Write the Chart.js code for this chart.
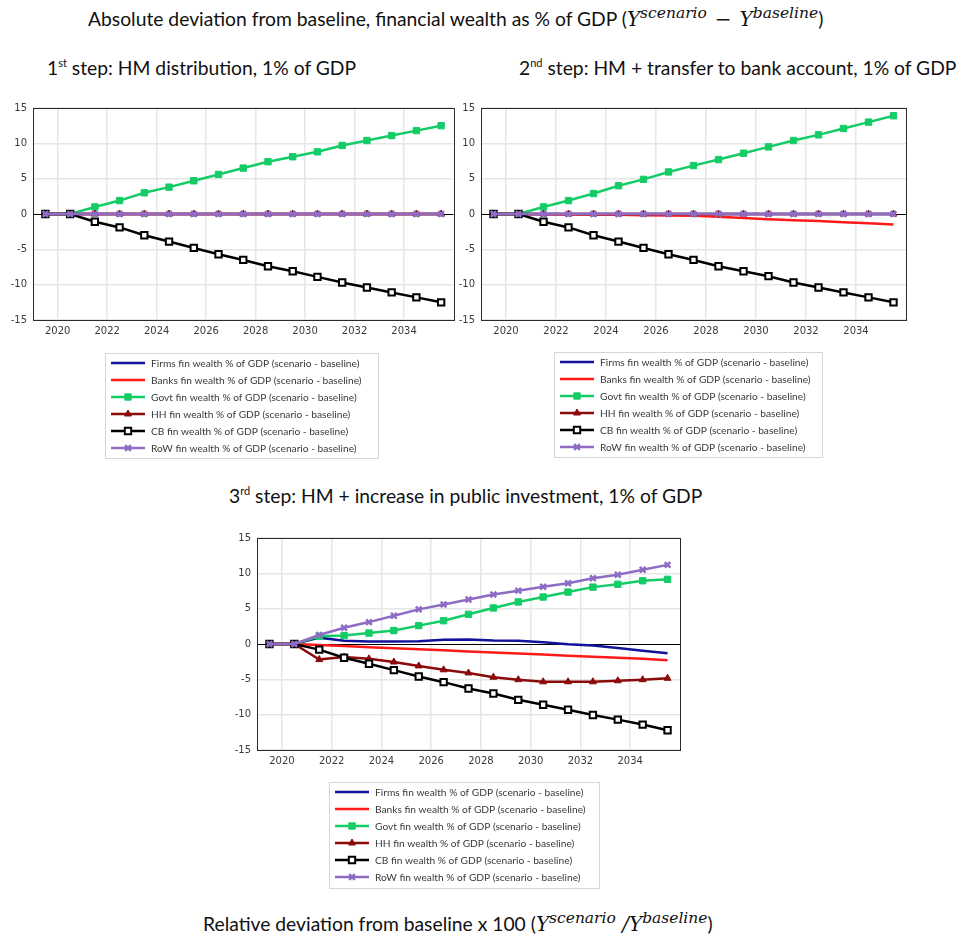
<!DOCTYPE html>
<html lang="en">
<head>
<meta charset="UTF-8">
<title>Absolute deviation from baseline</title>
<script src="https://cdn.jsdelivr.net/npm/chart.js"></script>
<style>
    body { margin: 0; background: #fff; font-family: Lato, "Open Sans", sans-serif; color: #111; }
    #page { position: relative; width: 966px; height: 940px; overflow: hidden; }
    .txt { position: absolute; white-space: nowrap; font-size: 19.3px; line-height: 22px; }
    .txt sup.o { font-size: 11px; vertical-align: 8px; line-height: 0; }
    .m { font-family: "DejaVu Serif", "Liberation Serif", serif; font-style: italic; font-size: 20px; }
    .m sup { font-size: 15.5px; vertical-align: 8px; line-height: 0; }
    .m .op { font-style: normal; margin: 0 8px; }
    canvas { position: absolute; }
</style>
</head>
<body>
<div id="page">
    <div class="txt" style="left:88px; top:8px;">Absolute deviation from baseline, financial wealth as % of GDP (<span class="m">Y<sup>scenario</sup><span class="op">&minus;</span>Y<sup>baseline</sup></span>)</div>
    <div class="txt" style="left:47px; top:57px;">1<sup class="o">st</sup> step: HM distribution, 1% of GDP</div>
    <div class="txt" style="left:519px; top:57px;">2<sup class="o">nd</sup> step: HM + transfer to bank account, 1% of GDP</div>
    <div class="txt" style="left:229px; top:485px;">3<sup class="o">rd</sup> step: HM + increase in public investment, 1% of GDP</div>
    <div class="txt" style="left:203px; top:913px;">Relative deviation from baseline x 100 (<span class="m">Y<sup>scenario</sup> /Y<sup>baseline</sup></span>)</div>

    <canvas id="c1" style="left:0px; top:95px;" width="460" height="370"></canvas>
    <canvas id="c2" style="left:450px; top:95px;" width="516" height="370"></canvas>
    <canvas id="c3" style="left:220px; top:525px;" width="480" height="370"></canvas>
</div>

<script>
// points are plotted mid-year
const years = [2019.5, 2020.5, 2021.5, 2022.5, 2023.5, 2024.5, 2025.5, 2026.5, 2027.5, 2028.5, 2029.5, 2030.5, 2031.5, 2032.5, 2033.5, 2034.5, 2035.5];
const xTicks = [2020, 2022, 2024, 2026, 2028, 2030, 2032, 2034];
const yTicks = [-15, -10, -5, 0, 5, 10, 15];

const labels = [
    'Firms fin wealth % of GDP (scenario - baseline)',
    'Banks fin wealth % of GDP (scenario - baseline)',
    'Govt fin wealth % of GDP (scenario - baseline)',
    'HH fin wealth % of GDP (scenario - baseline)',
    'CB fin wealth % of GDP (scenario - baseline)',
    'RoW fin wealth % of GDP (scenario - baseline)'
];

// step 1: HM distribution
const s1Firms = [0, 0, 0, 0, 0, 0, 0, 0, 0, 0, 0, 0, 0, 0, 0, 0, 0];
const s1Banks = [0, 0, 0, 0, 0, 0, 0, 0, 0, 0, 0, 0, 0, 0, 0, 0, 0];
const s1Govt  = [0, 0, 1.0, 1.9, 3.0, 3.8, 4.7, 5.6, 6.5, 7.4, 8.1, 8.8, 9.7, 10.4, 11.1, 11.8, 12.5];
const s1HH    = [0, 0, 0, 0, 0, 0, 0, 0, 0, 0, 0, 0, 0, 0, 0, 0, 0];
const s1CB    = [0, 0, -1.1, -1.9, -3.0, -3.9, -4.8, -5.7, -6.5, -7.4, -8.1, -8.9, -9.7, -10.4, -11.1, -11.8, -12.5];
const s1RoW   = [0, 0, 0, 0, 0, 0, 0, 0, 0, 0, 0, 0, 0, 0, 0, 0, 0];

// step 2: HM + transfer to bank account
const s2Firms = [0, 0, 0, 0, 0, 0, 0, 0, 0, 0, 0, 0, 0, 0, 0, 0, 0];
const s2Banks = [0, 0, -0.03, -0.06, -0.09, -0.12, -0.16, -0.2, -0.25, -0.4, -0.55, -0.75, -0.9, -1.0, -1.15, -1.3, -1.5];
const s2Govt  = [0, 0, 1.0, 1.9, 2.9, 4.0, 4.9, 5.95, 6.85, 7.7, 8.6, 9.5, 10.4, 11.2, 12.1, 13.0, 13.9];
const s2HH    = [0, 0, 0, 0, 0, 0, 0, 0, 0, 0, 0, 0, 0, 0, 0, 0, 0];
const s2CB    = [0, 0, -1.1, -1.9, -3.0, -3.9, -4.8, -5.7, -6.5, -7.4, -8.1, -8.8, -9.7, -10.4, -11.1, -11.8, -12.5];
const s2RoW   = [0, 0, 0, 0, 0, 0, 0, 0, 0, 0, 0, 0, 0, 0, 0, 0, 0];

// step 3: HM + increase in public investment
const s3Firms = [0, 0, 0.9, 0.45, 0.35, 0.35, 0.4, 0.6, 0.65, 0.5, 0.45, 0.25, -0.05, -0.2, -0.55, -0.95, -1.3];
const s3Banks = [0, 0, -0.15, -0.3, -0.45, -0.6, -0.75, -0.9, -1.05, -1.2, -1.35, -1.5, -1.65, -1.8, -1.95, -2.1, -2.3];
const s3Govt  = [0, 0, 1.1, 1.2, 1.55, 1.9, 2.6, 3.3, 4.2, 5.1, 5.95, 6.65, 7.35, 8.05, 8.45, 8.95, 9.15];
const s3HH    = [0, 0, -2.2, -1.85, -2.1, -2.55, -3.1, -3.65, -4.1, -4.7, -5.05, -5.35, -5.35, -5.35, -5.2, -5.05, -4.85];
const s3CB    = [0, 0, -0.8, -1.95, -2.8, -3.7, -4.6, -5.4, -6.3, -7.0, -7.9, -8.6, -9.3, -10.05, -10.7, -11.4, -12.2];
const s3RoW   = [0, 0, 1.27, 2.3, 3.1, 4.0, 4.9, 5.6, 6.3, 7.0, 7.55, 8.1, 8.6, 9.3, 9.8, 10.5, 11.2];

// line look per sector: Firms, Banks, Govt, HH, CB, RoW
const styles = [
    { color: '#12129a', point: false },
    { color: '#ff1a1a', point: false },
    { color: '#14cc66', point: 'rect', r: 4.5, fill: '#14cc66', bw: 1 },
    { color: '#8b0a0a', point: 'triangle', r: 4, fill: '#8b0a0a', bw: 1 },
    { color: '#000000', point: 'rect', r: 4.5, fill: '#ffffff', bw: 2 },
    { color: '#8e6cc4', point: 'crossRot', r: 4, fill: '#8e6cc4', bw: 2.5 }
];

// plot frame (all four sides)
const framePlugin = {
    id: 'frame',
    afterDatasetsDraw(chart) {
        const a = chart.chartArea, ctx = chart.ctx;
        ctx.save();
        ctx.strokeStyle = '#2b2b2b';
        ctx.lineWidth = 1;
        ctx.strokeRect(Math.round(a.left) + 0.5, Math.round(a.top) + 0.5, Math.round(a.right - a.left), Math.round(a.bottom - a.top));
        ctx.restore();
    }
};

// Excel-like boxed legend under the plot
const boxLegend = {
    id: 'boxLegend',
    afterDraw(chart, args, o) {
        const ctx = chart.ctx;
        ctx.save();
        ctx.strokeStyle = '#d6d6d6';
        ctx.lineWidth = 1;
        ctx.strokeRect(o.x + 0.5, o.y + 0.5, o.w, o.h);
        ctx.font = '10.2px Lato, "Open Sans", sans-serif';
        ctx.textBaseline = 'middle';
        chart.data.datasets.forEach((ds, i) => {
            const y = o.y + o.first + i * o.row;
            const x0 = o.x + 6, x1 = x0 + 34;
            ctx.strokeStyle = ds.borderColor;
            ctx.lineWidth = ds.borderWidth;
            ctx.beginPath();
            ctx.moveTo(x0, y);
            ctx.lineTo(x1, y);
            ctx.stroke();
            if (ds.pointRadius > 0) {
                ctx.fillStyle = ds.pointBackgroundColor;
                ctx.strokeStyle = ds.pointBorderColor;
                ctx.lineWidth = ds.pointBorderWidth;
                Chart.helpers.drawPoint(ctx, { pointStyle: ds.pointStyle, radius: ds.pointRadius, borderWidth: ds.pointBorderWidth, rotation: 0 }, (x0 + x1) / 2, y);
            }
            ctx.fillStyle = '#3a3a3a';
            ctx.fillText(ds.label, x0 + 40, y + 0.5);
        });
        ctx.restore();
    }
};

function makeChart(id, series, yAxisW, padRight, legendBox) {
    const datasets = series.map((vals, i) => {
        const s = styles[i];
        return {
            label: labels[i],
            data: vals.map((v, j) => ({ x: years[j], y: v })),
            borderColor: s.color,
            backgroundColor: s.color,
            borderWidth: 2.5,
            pointRadius: s.point ? s.r : 0,
            pointStyle: s.point || 'circle',
            pointBackgroundColor: s.fill || s.color,
            pointBorderColor: s.color,
            pointBorderWidth: s.bw || 0,
            tension: 0,
            order: series.length - i
        };
    });

    return new Chart(document.getElementById(id), {
        type: 'line',
        data: { datasets },
        plugins: [framePlugin, boxLegend],
        options: {
            responsive: false,
            animation: false,
            layout: { padding: { left: 0, right: padRight, top: 13, bottom: 123 } },
            plugins: {
                legend: { display: false },
                tooltip: { enabled: false },
                boxLegend: legendBox
            },
            scales: {
                x: {
                    type: 'linear',
                    min: 2019,
                    max: 2036,
                    afterBuildTicks: s => { s.ticks = xTicks.map(v => ({ value: v })); },
                    afterFit: s => { s.height = 22; },
                    grid: { color: '#e6e6e6', lineWidth: 1.5, drawTicks: false },
                    border: { display: false },
                    ticks: {
                        padding: 5,
                        color: '#3a3a3a',
                        font: { family: 'DejaVu Sans', size: 10 },
                        callback: v => String(v)
                    }
                },
                y: {
                    min: -15,
                    max: 15,
                    afterBuildTicks: s => { s.ticks = yTicks.map(v => ({ value: v })); },
                    afterFit: s => { s.width = yAxisW; },
                    grid: {
                        color: c => c.tick && c.tick.value === 0 ? '#000000' : '#e6e6e6',
                        lineWidth: c => c.tick && c.tick.value === 0 ? 1 : 1.5,
                        drawTicks: false
                    },
                    border: { display: false },
                    ticks: {
                        padding: 6,
                        color: '#3a3a3a',
                        font: { family: 'DejaVu Sans', size: 10 }
                    }
                }
            }
        }
    });
}

makeChart('c1', [s1Firms, s1Banks, s1Govt, s1HH, s1CB, s1RoW], 33, 5,
    { x: 105, y: 258, w: 273, h: 105, first: 10, row: 17 });
makeChart('c2', [s2Firms, s2Banks, s2Govt, s2HH, s2CB, s2RoW], 31, 60,
    { x: 104, y: 257, w: 268, h: 105, first: 10, row: 17 });
makeChart('c3', [s3Firms, s3Banks, s3Govt, s3HH, s3CB, s3RoW], 37, 20,
    { x: 109, y: 257, w: 270, h: 106, first: 10, row: 17 });
</script>
</body>
</html>
